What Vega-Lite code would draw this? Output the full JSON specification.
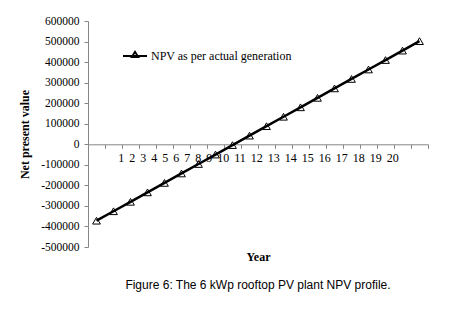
{
  "$schema": "https://vega.github.io/schema/vega-lite/v6.json",
  "width": 340,
  "height": 226,
  "autosize": {"type": "none"},
  "padding": {"left": 88, "top": 21, "right": 24, "bottom": 65},
  "background": "white",
  "config": {"view": {"stroke": null}, "font": "Liberation Serif"},
  "title": {
    "text": "Figure 6: The 6 kWp rooftop PV plant NPV profile.",
    "orient": "bottom",
    "font": "Liberation Sans",
    "fontSize": 12,
    "fontWeight": "normal",
    "color": "#000",
    "anchor": "middle",
    "offset": 17
  },
  "data": {
    "values": [
      {"year": 1, "npv": -372000, "series": "NPV as per actual generation"},
      {"year": 2, "npv": -326000, "series": "NPV as per actual generation"},
      {"year": 3, "npv": -280000, "series": "NPV as per actual generation"},
      {"year": 4, "npv": -234000, "series": "NPV as per actual generation"},
      {"year": 5, "npv": -188000, "series": "NPV as per actual generation"},
      {"year": 6, "npv": -142000, "series": "NPV as per actual generation"},
      {"year": 7, "npv": -96000, "series": "NPV as per actual generation"},
      {"year": 8, "npv": -50000, "series": "NPV as per actual generation"},
      {"year": 9, "npv": -4000, "series": "NPV as per actual generation"},
      {"year": 10, "npv": 42000, "series": "NPV as per actual generation"},
      {"year": 11, "npv": 88000, "series": "NPV as per actual generation"},
      {"year": 12, "npv": 134000, "series": "NPV as per actual generation"},
      {"year": 13, "npv": 180000, "series": "NPV as per actual generation"},
      {"year": 14, "npv": 226000, "series": "NPV as per actual generation"},
      {"year": 15, "npv": 272000, "series": "NPV as per actual generation"},
      {"year": 16, "npv": 318000, "series": "NPV as per actual generation"},
      {"year": 17, "npv": 364000, "series": "NPV as per actual generation"},
      {"year": 18, "npv": 410000, "series": "NPV as per actual generation"},
      {"year": 19, "npv": 456000, "series": "NPV as per actual generation"},
      {"year": 20, "npv": 502000, "series": "NPV as per actual generation"}
    ]
  },
  "encoding": {
    "y": {
      "field": "npv",
      "type": "quantitative",
      "scale": {"domain": [-500000, 600000], "nice": false, "zero": false},
      "axis": {
        "values": [-500000, -400000, -300000, -200000, -100000, 0, 100000, 200000, 300000, 400000, 500000, 600000],
        "labelExpr": "'' + datum.value",
        "title": "Net present value",
        "titleFont": "Liberation Serif",
        "titleFontSize": 12,
        "titleFontWeight": "bold",
        "titleColor": "#000",
        "titlePadding": 9,
        "labelFont": "Liberation Serif",
        "labelFontSize": 11.5,
        "labelColor": "#000",
        "labelPadding": 5,
        "tickSize": 4,
        "tickColor": "#868686",
        "domainColor": "#868686",
        "grid": false,
        "labelFlush": false,
        "labelOverlap": false,
        "labelBound": false
      }
    },
    "color": {
      "field": "series",
      "type": "nominal",
      "scale": {"range": ["black"]},
      "legend": {
        "orient": "none",
        "legendX": 34,
        "legendY": 22,
        "title": null,
        "padding": 0,
        "symbolType": "M-1,0H1M-0.28,0.1L0,-0.36L0.28,0.1Z",
        "symbolSize": 576,
        "symbolStrokeWidth": 1.8,
        "symbolStrokeColor": "black",
        "symbolFillColor": "transparent",
        "labelFont": "Liberation Serif",
        "labelFontSize": 12,
        "labelColor": "#000",
        "labelOffset": 3,
        "labelLimit": 300
      }
    }
  },
  "layer": [
    {
      "mark": {"type": "point", "shape": "triangle-up", "filled": false, "size": 60, "strokeWidth": 1, "opacity": 1},
      "encoding": {
        "x": {
          "field": "year",
          "type": "quantitative",
          "scale": {"domain": [0.5, 20.5], "nice": false, "zero": false},
          "axis": {
            "orient": "bottom",
            "offset": -102.7,
            "values": [0.5, 1.5, 2.5, 3.5, 4.5, 5.5, 6.5, 7.5, 8.5, 9.5, 10.5, 11.5, 12.5, 13.5, 14.5, 15.5, 16.5, 17.5, 18.5, 19.5, 20.5],
            "labels": false,
            "ticks": true,
            "tickSize": 4,
            "tickColor": "#868686",
            "domainColor": "#868686",
            "grid": false,
            "title": "Year",
            "titleFont": "Liberation Serif",
            "titleFontSize": 12,
            "titleFontWeight": "bold",
            "titleColor": "#000",
            "titlePadding": 103
          }
        }
      }
    },
    {
      "mark": {"type": "line", "strokeWidth": 2.5},
      "encoding": {
        "x": {
          "field": "year",
          "type": "quantitative",
          "axis": {
            "orient": "bottom",
            "offset": -102.7,
            "domain": false,
            "ticks": false,
            "labels": false,
            "grid": false,
            "title": "1 \u20062 \u20063 \u20064 \u20065 \u20066 \u20067 \u20068 \u20069 \u200610 \u200611 \u200612 \u200613 \u200614 \u200615 \u200616 \u200617 \u200618 \u200619 \u200620",
            "titleFont": "Liberation Serif",
            "titleFontSize": 12,
            "titleFontWeight": "normal",
            "titleColor": "#000",
            "titlePadding": 8
          }
        }
      }
    }
  ],
  "resolve": {"axis": {"x": "independent"}}
}
